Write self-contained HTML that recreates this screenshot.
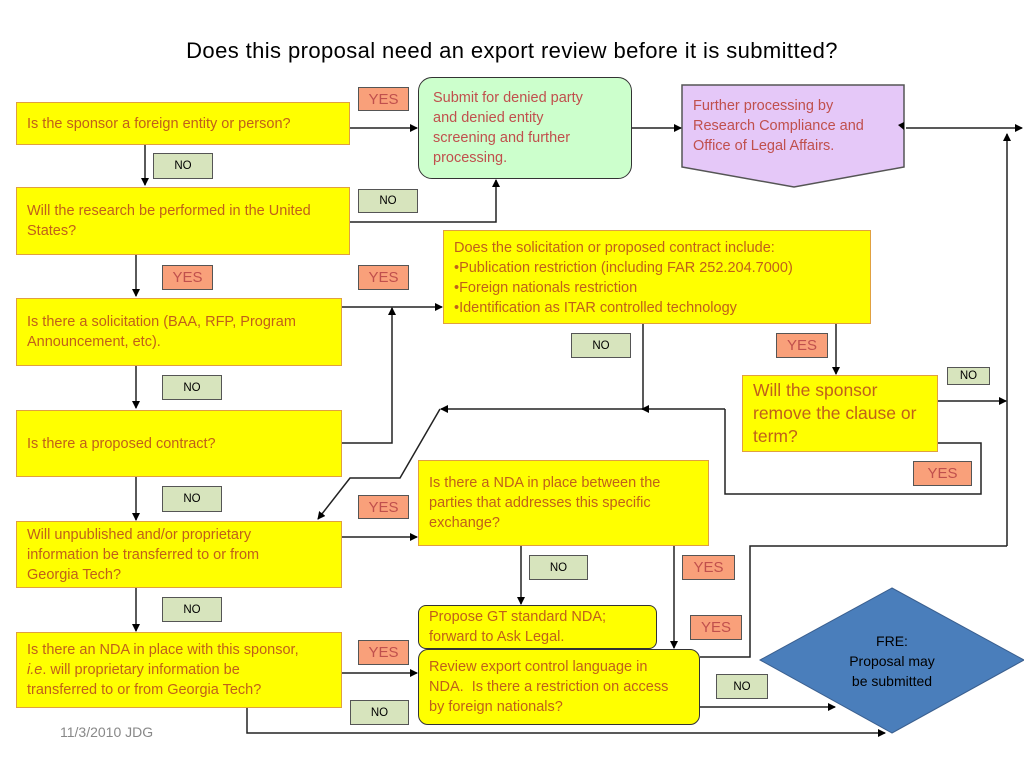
<!DOCTYPE html>
<html><head><meta charset="utf-8"><style>
body{margin:0;width:1024px;height:768px;background:#fff;position:relative;overflow:hidden;font-family:"Liberation Sans",sans-serif}
.b{position:absolute;box-sizing:border-box;background:#ffff00;border:1px solid #e0a040;color:#c0601a;font-size:14.5px;line-height:20px;padding:0 0 0 10px;display:flex;align-items:center;white-space:nowrap}
.b>span{display:block}
.l{position:absolute;box-sizing:border-box;border:1px solid #555;font-size:11.5px;display:flex;align-items:center;justify-content:center}
.y{background:#f9a07a;color:#c0504d;font-size:15px}
.n{background:#d7e4bd;color:#000}
svg{position:absolute;left:0;top:0}
</style></head><body>
<div style="position:absolute;left:0;width:1024px;top:38px;text-align:center;font-size:22px;letter-spacing:0.4px;color:#000">Does this proposal need an export review before it is submitted?</div>
<svg width="1024" height="768">
<defs><marker id="a" markerWidth="8" markerHeight="8" refX="7" refY="4" orient="auto" markerUnits="userSpaceOnUse"><path d="M0,0L8,4L0,8z" fill="#000"/></marker></defs>
<g stroke="#222" stroke-width="1.5" fill="none">
<polygon points="682,85 904,85 904,167 794,187 682,167" fill="#e5c8f8" stroke="#555"/>
<path d="M350,128H417" marker-end="url(#a)"/>
<path d="M632,128H681" marker-end="url(#a)"/>
<path d="M906,128H1022" marker-end="url(#a)"/>
<path d="M1007,546V134" marker-end="url(#a)"/>
<path d="M145,145V185" marker-end="url(#a)"/>
<path d="M350,222H496V180" marker-end="url(#a)"/>
<path d="M136,255V296" marker-end="url(#a)"/>
<path d="M342,307H442" marker-end="url(#a)"/>
<path d="M342,443H392V308" marker-end="url(#a)"/>
<path d="M136,366V408" marker-end="url(#a)"/>
<path d="M136,477V520" marker-end="url(#a)"/>
<path d="M136,588V631" marker-end="url(#a)"/>
<path d="M643,324V409H441" marker-end="url(#a)"/>
<path d="M725,409H642" marker-end="url(#a)"/>
<path d="M725,409V494H981V443H938"/>
<path d="M440,409L400,478H350L318,519" marker-end="url(#a)"/>
<path d="M836,324V374" marker-end="url(#a)"/>
<path d="M938,401H1006" marker-end="url(#a)"/>
<path d="M342,537H417" marker-end="url(#a)"/>
<path d="M342,673H417" marker-end="url(#a)"/>
<path d="M521,546V604" marker-end="url(#a)"/>
<path d="M674,546V648" marker-end="url(#a)"/>
<path d="M700,657H750V546H1007"/>
<path d="M700,707H835" marker-end="url(#a)"/>
<path d="M247,708V733H885" marker-end="url(#a)"/>
</g>
<path d="M904,122L898,125L904,130z" fill="#000"/>
<path d="M337,410L333,418H341z" fill="#000"/>
<polygon points="892,588 1024,660 892,733 760,660" fill="#4a7ebb" stroke="#3a5f8f"/>
<text x="892" y="646" font-size="14" text-anchor="middle" fill="#000" font-family="Liberation Sans">FRE:</text>
<text x="892" y="666" font-size="14" text-anchor="middle" fill="#000" font-family="Liberation Sans">Proposal may</text>
<text x="892" y="686" font-size="14" text-anchor="middle" fill="#000" font-family="Liberation Sans">be submitted</text>
</svg>
<div style="position:absolute;left:693px;top:96px;width:210px;color:#c0504d;font-size:14.5px;line-height:20px;white-space:nowrap">Further processing by<br>Research Compliance and<br>Office of Legal Affairs.</div>
<div class="b" style="left:418px;top:77px;width:214px;height:102px;background:#ccffcc;border:1px solid #333;border-radius:14px;align-items:flex-start;padding:10px 8px 0 14px;color:#c0504d"><span>Submit for denied party<br>and denied entity<br>screening and further<br>processing.</span></div>
<div class="b" style="left:16px;top:102px;width:334px;height:43px"><span>Is the sponsor a foreign entity or person?</span></div>
<div class="b" style="left:16px;top:187px;width:334px;height:68px"><span>Will the research be performed in the United<br>States?</span></div>
<div class="b" style="left:16px;top:298px;width:326px;height:68px"><span>Is there a solicitation (BAA, RFP, Program<br>Announcement, etc).</span></div>
<div class="b" style="left:16px;top:410px;width:326px;height:67px"><span>Is there a proposed contract?</span></div>
<div class="b" style="left:16px;top:521px;width:326px;height:67px"><span>Will unpublished and/or proprietary<br>information be transferred to or from<br>Georgia Tech?</span></div>
<div class="b" style="left:16px;top:632px;width:326px;height:76px"><span>Is there an NDA in place with this sponsor,<br><i>i.e</i>. will proprietary information be<br>transferred to or from Georgia Tech?</span></div>
<div class="b" style="left:443px;top:230px;width:428px;height:94px;align-items:flex-start;padding-top:7px"><span>Does the solicitation or proposed contract include:<br>•Publication restriction (including FAR 252.204.7000)<br>•Foreign nationals restriction<br>•Identification as ITAR controlled technology</span></div>
<div class="b" style="left:742px;top:375px;width:196px;height:77px;font-size:17.5px;line-height:23px;align-items:flex-start;padding-top:3px"><span>Will the sponsor<br>remove the clause or<br>term?</span></div>
<div class="b" style="left:418px;top:460px;width:291px;height:86px;align-items:flex-start;padding-top:12px"><span>Is there a NDA in place between the<br>parties that addresses this specific<br>exchange?</span></div>
<div class="b" style="left:418px;top:605px;width:239px;height:44px;border:1px solid #333;border-radius:8px"><span>Propose GT standard NDA;<br>forward to Ask Legal.</span></div>
<div class="b" style="left:418px;top:649px;width:282px;height:76px;border:1px solid #333;border-radius:10px"><span>Review export control language in<br>NDA.&nbsp; Is there a restriction on access<br>by foreign nationals?</span></div>
<div class="l y" style="left:358px;top:87px;width:51px;height:24px">YES</div>
<div class="l n" style="left:153px;top:153px;width:60px;height:26px">NO</div>
<div class="l n" style="left:358px;top:189px;width:60px;height:24px">NO</div>
<div class="l y" style="left:162px;top:265px;width:51px;height:25px">YES</div>
<div class="l y" style="left:358px;top:265px;width:51px;height:25px">YES</div>
<div class="l n" style="left:162px;top:375px;width:60px;height:25px">NO</div>
<div class="l n" style="left:571px;top:333px;width:60px;height:25px">NO</div>
<div class="l y" style="left:776px;top:333px;width:52px;height:25px">YES</div>
<div class="l n" style="left:947px;top:367px;width:43px;height:18px">NO</div>
<div class="l y" style="left:913px;top:461px;width:59px;height:25px">YES</div>
<div class="l n" style="left:162px;top:486px;width:60px;height:26px">NO</div>
<div class="l y" style="left:358px;top:495px;width:51px;height:24px">YES</div>
<div class="l n" style="left:529px;top:555px;width:59px;height:25px">NO</div>
<div class="l y" style="left:682px;top:555px;width:53px;height:25px">YES</div>
<div class="l n" style="left:162px;top:597px;width:60px;height:25px">NO</div>
<div class="l y" style="left:690px;top:615px;width:52px;height:25px">YES</div>
<div class="l y" style="left:358px;top:640px;width:51px;height:25px">YES</div>
<div class="l n" style="left:716px;top:674px;width:52px;height:25px">NO</div>
<div class="l n" style="left:350px;top:700px;width:59px;height:25px">NO</div>
<div style="position:absolute;left:60px;top:724px;font-size:14px;color:#888">11/3/2010 JDG</div>
</body></html>
